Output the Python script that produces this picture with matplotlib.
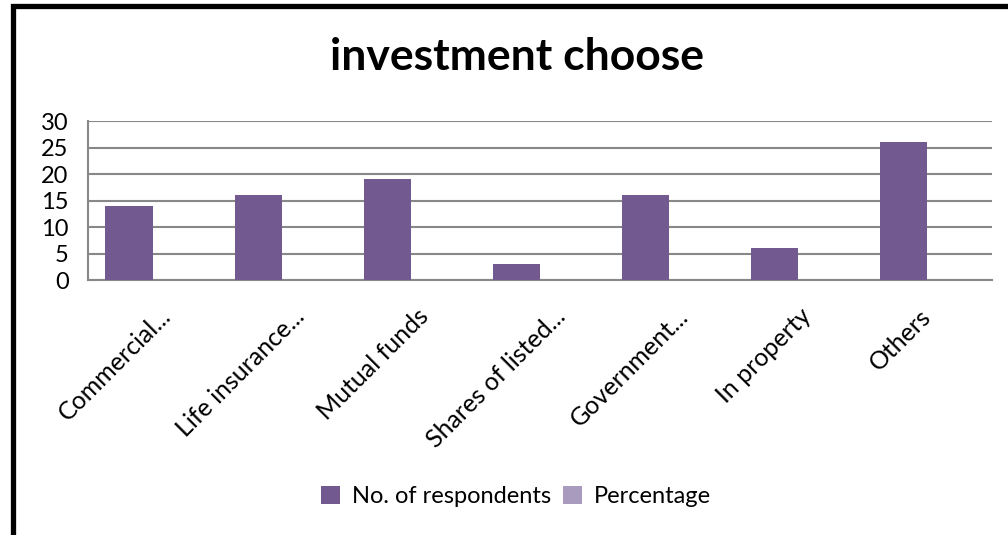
import matplotlib.pyplot as plt
import numpy as np
from matplotlib.patches import Rectangle
from matplotlib.transforms import ScaledTranslation

plt.rcParams['font.family'] = ['Lato', 'DejaVu Sans']

categories  = ['Commercial...', 'Life insurance...', 'Mutual funds', 'Shares of listed...',
               'Government...', 'In property', 'Others']
respondents = [14, 16, 19, 3, 16, 6, 26]
percentage  = [0, 0, 0, 0, 0, 0, 0]
series      = ['No. of respondents', 'Percentage']
yticks      = [0, 5, 10, 15, 20, 25, 30]

fig = plt.figure(figsize=(10.08, 5.35), dpi=100)
ax = fig.add_axes([0.0873, 0.4766, 0.8967, 0.2972])

x = np.arange(len(categories))
w = 0.365
ax.bar(x - w/2, respondents, w, color='#725A90', label=series[0], zorder=3)
ax.bar(x + w/2, percentage, w, color='#A99BBE', label=series[1], zorder=3)

ax.set_xlim(-0.5, len(categories) - 0.5)
ax.set_ylim(0, 30)
ax.set_yticks(yticks)
ax.yaxis.grid(True, color='#888888', linewidth=1.5, zorder=0)
ax.tick_params(axis='y', length=0, pad=14, labelsize=17)
ax.tick_params(axis='x', length=0, pad=4, labelsize=18)
ax.set_xticks(x)
ax.set_xticklabels(categories, rotation=45, ha='right', va='center',
                   rotation_mode='anchor')
for s in ['top', 'right']:
    ax.spines[s].set_visible(False)
for s in ['left', 'bottom']:
    ax.spines[s].set_color('#888888')
    ax.spines[s].set_linewidth(1.5)

# longer slanted labels sit a bit further right of their tick
fig.canvas.draw()
labels = ax.get_xticklabels()
widths = [lab.get_window_extent().width for lab in labels]
for lab, wb in zip(labels, widths):
    lab.set_y(-0.17)
    dx = 0.28 * (wb - min(widths)) / fig.dpi
    lab.set_transform(lab.get_transform() + ScaledTranslation(dx, 0, fig.dpi_scale_trans))

fig.text(0.513, 0.893, 'investment choose', ha='center', va='center',
         fontsize=32, fontweight='bold')

fig.legend(loc='center', bbox_to_anchor=(0.512, 0.072), ncol=2, frameon=False,
           fontsize=17, handlelength=0.8, handleheight=0.8, handletextpad=0.5,
           columnspacing=0.5)

# outer black frame, cut off at the right and bottom
fig.patches.append(Rectangle((12.5/1008, -0.2), 1.2, 1.2 - 5.5/535,
                             transform=fig.transFigure, fill=False,
                             edgecolor='black', linewidth=3.8, clip_on=False))

fig.savefig('out.png', dpi=100)
